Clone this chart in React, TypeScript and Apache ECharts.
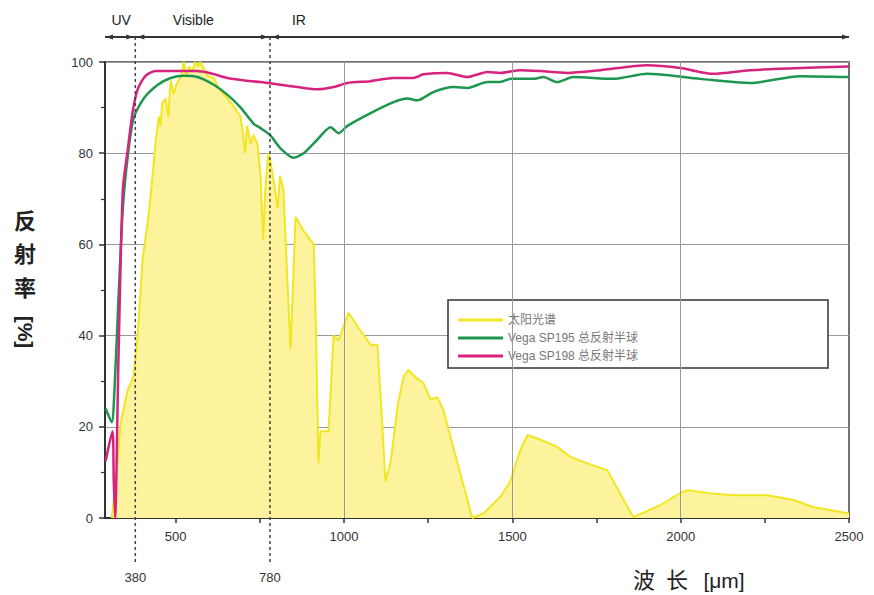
import React, { useEffect, useRef } from "react";
import * as echarts from "echarts";

// ---- data (wavelength nm, value %) ----
const solarWl = [310, 322, 337, 357, 375, 387, 402, 417, 426, 441, 450, 455, 460, 470, 478, 485, 494, 502, 509, 516, 524, 532, 539, 550, 558, 565, 572, 580, 595, 613, 630, 654, 675, 693, 700, 706, 712, 723, 731, 743, 752, 760, 766, 775, 782, 795, 803, 810, 820, 830, 841, 848, 856, 880, 910, 917, 924, 930, 954, 969, 984, 1013, 1050, 1079, 1099, 1110, 1123, 1138, 1160, 1177, 1191, 1210, 1236, 1257, 1277, 1295, 1337, 1381, 1414, 1464, 1494, 1524, 1545, 1590, 1633, 1672, 1711, 1761, 1782, 1859, 1939, 2004, 2022, 2090, 2156, 2257, 2334, 2393, 2500];
const solarVal = [0, 8, 21, 28, 31, 40, 57, 65, 71, 83, 88, 86, 91, 92, 88, 96, 93, 95, 96, 97, 100, 97, 99, 98, 100, 99, 100, 99, 97, 96.5, 94, 92, 90, 88, 84, 80, 86, 82, 84, 82, 75, 61, 72, 80, 78, 72, 68, 75, 72, 55, 37, 50, 66, 63, 60, 40, 12, 19, 19, 40, 39, 45, 41, 38, 38, 25, 8, 12, 25, 31, 32.5, 31, 29.6, 26, 26.5, 23.7, 12, 0, 1, 4.6, 8, 15, 18.2, 17, 15.6, 13.4, 12.3, 11, 10.5, 0.2, 2.8, 5.7, 6.1, 5.4, 5, 5, 4, 2.4, 1];

const sp195Wl = [292, 310, 318, 330, 343, 358, 375, 405, 447, 485, 524, 565, 613, 654, 693, 731, 752, 780, 812, 850, 880, 921, 960, 984, 1010, 1079, 1147, 1188, 1218, 1265, 1325, 1366, 1426, 1464, 1494, 1562, 1592, 1633, 1681, 1800, 1900, 2058, 2206, 2355, 2500];
const sp195Val = [24, 21, 28, 48, 68, 79.6, 87.7, 92, 95, 96.5, 97, 96.7, 95, 92.8, 90, 86.5, 85.5, 84, 81, 79, 80, 83, 85.7, 84.4, 86, 88.8, 91.2, 92, 91.6, 93.4, 94.5, 94.3, 95.6, 95.6, 96.3, 96.3, 96.7, 95.6, 96.7, 96.3, 97.4, 96.3, 95.4, 96.9, 96.7];

const sp198Wl = [292, 312, 316, 320, 330, 343, 358, 372, 387, 411, 441, 500, 560, 600, 654, 700, 752, 812, 862, 921, 969, 1010, 1079, 1147, 1206, 1236, 1307, 1366, 1426, 1464, 1524, 1583, 1663, 1761, 1900, 1999, 2096, 2206, 2355, 2500];
const sp198Val = [12.5, 19, 8, 0, 35, 72, 81, 89, 94, 97, 98, 98, 98, 97.6, 96.5, 96, 95.6, 95, 94.5, 94, 94.5, 95.4, 95.8, 96.5, 96.5, 97.3, 97.6, 96.7, 97.8, 97.6, 98.2, 98, 97.6, 98.2, 99.3, 98.7, 97.4, 98.2, 98.7, 99];

const seriesNames = ["太阳光谱", "Vega SP195 总反射半球", "Vega SP198 总反射半球"];
const xLabelValues = [500, 1000, 1500, 2000, 2500];
const xTickValues = [500, 750, 1000, 1250, 1500, 1750, 2000, 2250, 2500];
const xGridValues = [1000, 1500, 2000];
const bandEdges = [380, 780];
const bandNames = ["UV", "Visible", "IR"];

const FONT = "'Liberation Sans', Arial, 'Noto Sans CJK SC', sans-serif";

const zip = (a: number[], b: number[]) => a.map((v, i) => [v, b[i]]);

export default function App() {
  const ref = useRef<HTMLDivElement>(null);
  useEffect(() => {
    document.body.style.margin = "0";
    const chart = echarts.init(ref.current!, null, { renderer: "svg" });
    chart.setOption({
      animation: false,
      textStyle: { fontFamily: FONT },
      grid: { left: 105, right: 25, top: 62, bottom: 77, show: true, borderColor: "#444", borderWidth: 1.5, backgroundColor: "transparent" },
      xAxis: {
        type: "value", min: 290, max: 2500,
        axisLine: { show: true, lineStyle: { color: "#333", width: 2 } },
        axisTick: { show: true, customValues: xTickValues, length: 5, lineStyle: { color: "#333", width: 1.5 } },
        axisLabel: { customValues: xLabelValues, formatter: (v: number) => String(v), fontSize: 13, color: "#333", margin: 12, fontFamily: FONT },
        splitLine: { show: false },
      },
      yAxis: {
        type: "value", min: 0, max: 100, interval: 20,
        axisLine: { show: true, lineStyle: { color: "#333", width: 2 } },
        axisTick: { show: true, length: 6, lineStyle: { color: "#333", width: 1.5 } },
        minorTick: { show: true, splitNumber: 2, length: 4, lineStyle: { color: "#333", width: 1.2 } },
        axisLabel: { fontSize: 13, color: "#333", margin: 12, fontFamily: FONT },
        splitLine: { show: true, lineStyle: { color: "#999", width: 1 } },
      },
      legend: {
        data: seriesNames, orient: "vertical", left: 453, top: 309,
        itemWidth: 45, itemHeight: 3, itemGap: 6, icon: "rect",
        textStyle: { fontSize: 12, color: "#777", fontFamily: FONT },
      },
      series: [
        {
          type: "line", name: "grid", data: [], z: 1, silent: true,
          markLine: {
            silent: true, symbol: "none", label: { show: false },
            lineStyle: { color: "#999", width: 1, type: "solid" },
            data: xGridValues.map((v) => ({ xAxis: v })),
          },
        },
        {
          type: "line", name: seriesNames[0], data: zip(solarWl, solarVal), symbol: "none", z: 2,
          lineStyle: { color: "#f2e620", width: 2 }, itemStyle: { color: "#f2e620" },
          areaStyle: { color: "#fcf39c", opacity: 1 },
        },
        {
          type: "line", name: seriesNames[1], data: zip(sp195Wl, sp195Val), symbol: "none", z: 3,
          smooth: 0.25,
          lineStyle: { color: "#1e9650", width: 2.5 }, itemStyle: { color: "#1e9650" },
        },
        {
          type: "line", name: seriesNames[2], data: zip(sp198Wl, sp198Val), symbol: "none", z: 3,
          smooth: 0.25,
          lineStyle: { color: "#d7237d", width: 2.5 }, itemStyle: { color: "#d7237d" },
        },
      ],
    });

    const p = (x: number, y: number) => chart.convertToPixel({ gridIndex: 0 }, [x, y]) as number[];
    const [xL, yTop] = p(290, 100);
    const [xR, yBot] = p(2500, 0);
    const [x380] = p(bandEdges[0], 0);
    const [x780] = p(bandEdges[1], 0);
    const ay = yTop - 25;
    const ly = yTop - 42;
    const col = "#333";
    const arrow = (x: number, dir: number) => ({
      type: "polygon", z: 5,
      shape: { points: [[x, ay], [x - dir * 7, ay - 2.5], [x - dir * 7, ay + 2.5]] },
      style: { fill: col },
    });
    const dashed = (x: number) => ({
      type: "line", z: 5,
      shape: { x1: x, y1: ay, x2: x, y2: yBot + 47 },
      style: { stroke: "#444", lineWidth: 1.5, lineDash: [3, 3] },
    });
    const txt = (text: string, x: number, y: number, size: number, extra: any = {}) => ({
      type: "text", z: 5, x, y,
      style: { text, fontSize: size, fill: "#222", fontFamily: FONT, align: "center", verticalAlign: "middle", ...extra.style },
      ...extra.el,
    });
    chart.setOption({
      graphic: {
        elements: [
          { type: "rect", z: 3, shape: { x: 448, y: 300, width: 380, height: 68 }, style: { fill: "#fff", stroke: "#333", lineWidth: 1.5 } },
          { type: "line", z: 5, shape: { x1: xL, y1: ay, x2: xR, y2: ay }, style: { stroke: col, lineWidth: 2 } },
          arrow(xL + 1, -1), arrow(x380 - 2, 1),
          arrow(x380 + 2, -1), arrow(x780 - 2, 1),
          arrow(x780 + 2, -1), arrow(xR, 1),
          dashed(x380), dashed(x780),
          txt(bandNames[0], (xL + x380) / 2 + 1, ly, 14),
          txt(bandNames[1], x380 + 58, ly, 14),
          txt(bandNames[2], x780 + 29, ly, 14),
          txt(String(bandEdges[0]), x380, yBot + 59, 13, { style: { fill: "#333" } }),
          txt(String(bandEdges[1]), x780, yBot + 59, 13, { style: { fill: "#333" } }),
          txt("反", 25, 221, 22, { style: { fontWeight: "bold" } }),
          txt("射", 25, 254, 22, { style: { fontWeight: "bold" } }),
          txt("率", 25, 288, 22, { style: { fontWeight: "bold" } }),
          txt("[%]", 25, 332, 21, { el: { rotation: -Math.PI / 2 }, style: { fontWeight: "bold" } }),
          txt("波", 644, 580, 22),
          txt("长", 677, 580, 22),
          txt("[μm]", 724, 580, 21),
        ],
      },
    });
    return () => chart.dispose();
  }, []);
  return <div ref={ref} style={{ width: 874, height: 595 }} />;
}
